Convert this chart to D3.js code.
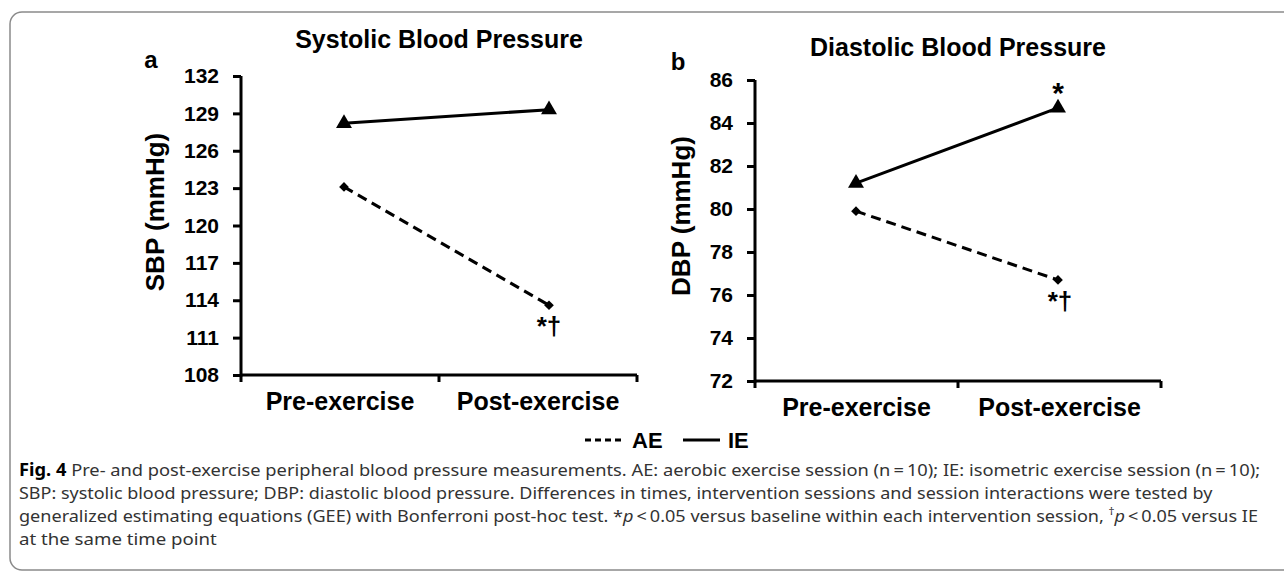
<!DOCTYPE html>
<html>
<head>
<meta charset="utf-8">
<script src="https://cdn.jsdelivr.net/npm/d3@7"></script>
<style>
  body { margin: 0; background: #fff; }
  svg { display: block; }
  .tick text { font-family: "Liberation Sans", Arial, sans-serif; font-weight: bold; }
</style>
</head>
<body>
<div id="chart"></div>
<script>
// categories and values
var categories = ["Pre-exercise", "Post-exercise"];
var sbpAE = [123.1, 113.6],
    sbpIE = [128.2, 129.3];
var dbpAE = [79.9, 76.7],
    dbpIE = [81.2, 84.7];
var sbpTicks = [108, 111, 114, 117, 120, 123, 126, 129, 132],
    dbpTicks = [72, 74, 76, 78, 80, 82, 84, 86];
var seriesNames = ["AE", "IE"];
var captionLines = [
    [{t: "Fig. 4", b: true}, {t: "  Pre- and post-exercise peripheral blood pressure measurements. AE: aerobic exercise session (n\u2009=\u200910); IE: isometric exercise session (n\u2009=\u200910);"}],
    [{t: "SBP: systolic blood pressure; DBP: diastolic blood pressure. Differences in times, intervention sessions and session interactions were tested by"}],
    [{t: "generalized estimating equations (GEE) with Bonferroni post-hoc test. *"}, {t: "p", i: true}, {t: "\u2009<\u20090.05 versus baseline within each intervention session, "}, {t: "\u2020", sup: true}, {t: "p", i: true}, {t: "\u2009<\u20090.05 versus IE"}],
    [{t: "at the same time point"}]
];

var W = 1284, H = 578;
var font = '"Liberation Sans", Arial, sans-serif';

var svg = d3.select("#chart").append("svg")
    .attr("width", W).attr("height", H);

// frame around the figure
svg.append("rect")
    .attr("x", 10).attr("y", 12)
    .attr("width", 1300).attr("height", 558)
    .attr("rx", 12)
    .attr("fill", "none")
    .attr("stroke", "#8a8a8a")
    .attr("stroke-width", 1.5);

function make_panel(p) {
    var w = p.right - p.left,
        h = p.bottom - p.top;
    var X = d3.scaleBand().domain(categories).range([0, w]),
        P = d3.scalePoint().domain(categories).range(p.mark),
        Y = d3.scaleLinear().domain(d3.extent(p.ticks)).range([h, 0]);

    var g = svg.append("g")
        .attr("transform", "translate(" + p.left + "," + p.top + ")");

    // y axis
    var yAx = g.append("g")
        .call(d3.axisLeft(Y).tickValues(p.ticks).tickSize(8).tickPadding(14));
    yAx.select(".domain").attr("stroke-width", 3).attr("d", "M0," + (h + 1.5) + "V0");
    yAx.selectAll(".tick line").attr("stroke-width", 3);
    yAx.selectAll(".tick text").attr("font-size", 21).attr("fill", "#000");

    // x axis, ticks between categories
    var xAx = g.append("g")
        .attr("transform", "translate(0," + h + ")")
        .call(d3.axisBottom(X).tickSize(0).tickPadding(17));
    xAx.select(".domain").attr("stroke-width", 3).attr("d", "M0,0H" + w);
    xAx.selectAll(".tick text")
        .attr("font-size", 25).attr("fill", "#000").attr("dy", "0.71em");
    xAx.selectAll("line.sep")
        .data([0, w / 2, w])
        .enter().append("line")
        .attr("class", "sep")
        .attr("x1", function(d) { return d; }).attr("x2", function(d) { return d; })
        .attr("y1", 0).attr("y2", 7)
        .attr("stroke", "#000").attr("stroke-width", 3);

    var line = d3.line()
        .x(function(d, i) { return P(categories[i]); })
        .y(function(d) { return Y(d); });

    // AE dashed with diamonds
    g.append("path").datum(p.ae)
        .attr("d", line)
        .attr("fill", "none").attr("stroke", "#000")
        .attr("stroke-width", 3).attr("stroke-dasharray", "10,6");
    g.selectAll(".ae").data(p.ae).enter().append("path")
        .attr("class", "ae")
        .attr("d", d3.symbol().type(d3.symbolDiamond2).size(60))
        .attr("transform", function(d, i) { return "translate(" + P(categories[i]) + "," + Y(d) + ")"; })
        .attr("fill", "#000");

    // IE solid with triangles
    g.append("path").datum(p.ie)
        .attr("d", line)
        .attr("fill", "none").attr("stroke", "#000")
        .attr("stroke-width", 3);
    g.selectAll(".ie").data(p.ie).enter().append("path")
        .attr("class", "ie")
        .attr("d", d3.symbol().type(d3.symbolTriangle).size(110))
        .attr("transform", function(d, i) { return "translate(" + P(categories[i]) + "," + Y(d) + ")"; })
        .attr("fill", "#000");

    // significance marks
    p.marks.forEach(function(m) {
        var v = m.s === "IE" ? p.ie[1] : p.ae[1];
        g.append("text")
            .attr("x", P(categories[1]) + m.dx)
            .attr("y", Y(v) + m.dy)
            .attr("text-anchor", "middle")
            .attr("font-family", font).attr("font-weight", "bold")
            .attr("font-size", m.size)
            .text(m.t);
    });

    // titles
    g.append("text")
        .attr("x", w / 2).attr("y", -p.top + p.titleY)
        .attr("text-anchor", "middle")
        .attr("font-family", font).attr("font-weight", "bold").attr("font-size", 25)
        .text(p.title);
    g.append("text")
        .attr("transform", "translate(" + (p.ylabX - p.left) + "," + (p.ylabY - p.top) + ") rotate(-90)")
        .attr("text-anchor", "middle").attr("dy", "0.35em")
        .attr("font-family", font).attr("font-weight", "bold").attr("font-size", 26)
        .text(p.ylab);
    g.append("text")
        .attr("x", p.letterX - p.left).attr("y", p.letterY - p.top)
        .attr("text-anchor", "middle")
        .attr("font-family", font).attr("font-weight", "bold").attr("font-size", 24)
        .text(p.letter);
}

make_panel({
    left: 241, right: 637, top: 76, bottom: 375,
    mark: [103, 308], ticks: sbpTicks, ae: sbpAE, ie: sbpIE,
    title: "Systolic Blood Pressure", titleY: 48,
    ylab: "SBP (mmHg)", ylabX: 155, ylabY: 212,
    letter: "a", letterX: 151, letterY: 68,
    marks: [{s: "AE", t: "*\u2020", dx: 0, dy: 30, size: 26}]
});
make_panel({
    left: 755, right: 1161, top: 80, bottom: 381,
    mark: [101, 303], ticks: dbpTicks, ae: dbpAE, ie: dbpIE,
    title: "Diastolic Blood Pressure", titleY: 56,
    ylab: "DBP (mmHg)", ylabX: 681, ylabY: 216,
    letter: "b", letterX: 678, letterY: 70,
    marks: [{s: "IE", t: "*", dx: 0, dy: -5, size: 30}, {s: "AE", t: "*\u2020", dx: 2, dy: 30, size: 26}]
});

// legend
var lg = svg.append("g").attr("transform", "translate(0,440)");
lg.append("line").attr("x1", 585).attr("x2", 622).attr("y1", 0).attr("y2", 0)
    .attr("stroke", "#000").attr("stroke-width", 3).attr("stroke-dasharray", "6,4");
lg.append("text").attr("x", 632).attr("y", 0).attr("dy", "0.36em")
    .attr("font-family", font).attr("font-weight", "bold").attr("font-size", 22)
    .text(seriesNames[0]);
lg.append("line").attr("x1", 683).attr("x2", 720).attr("y1", 0).attr("y2", 0)
    .attr("stroke", "#000").attr("stroke-width", 3);
lg.append("text").attr("x", 728).attr("y", 0).attr("dy", "0.36em")
    .attr("font-family", font).attr("font-weight", "bold").attr("font-size", 22)
    .text(seriesNames[1]);

// caption, squeezed to the widths in the figure
var capWidths = [1242, 1194, 1240, 198];
var capBase = [476, 499, 522, 545];
captionLines.forEach(function(parts, i) {
    var t = svg.append("text")
        .attr("font-family", '"Noto Sans", "Open Sans", sans-serif')
        .attr("font-size", 17)
        .attr("fill", "#333");
    parts.forEach(function(s) {
        var ts = t.append("tspan").text(s.t);
        if (s.b) ts.attr("font-weight", "bold").attr("fill", "#000");
        if (s.i) ts.attr("font-style", "italic");
        if (s.sup) ts.attr("font-size", 11).attr("dy", -7);
        if (s.after) ts.attr("dy", 7);
    });
    // bring the baseline back after the superscript
    t.selectAll("tspan").each(function(d, j, nodes) {
        if (j > 0 && parts[j - 1].sup) d3.select(this).attr("dy", 7);
    });
    var len = t.node().getComputedTextLength();
    t.attr("transform", "translate(19," + capBase[i] + ") scale(" + (capWidths[i] / len) + ",1)");
});
</script>
</body>
</html>
